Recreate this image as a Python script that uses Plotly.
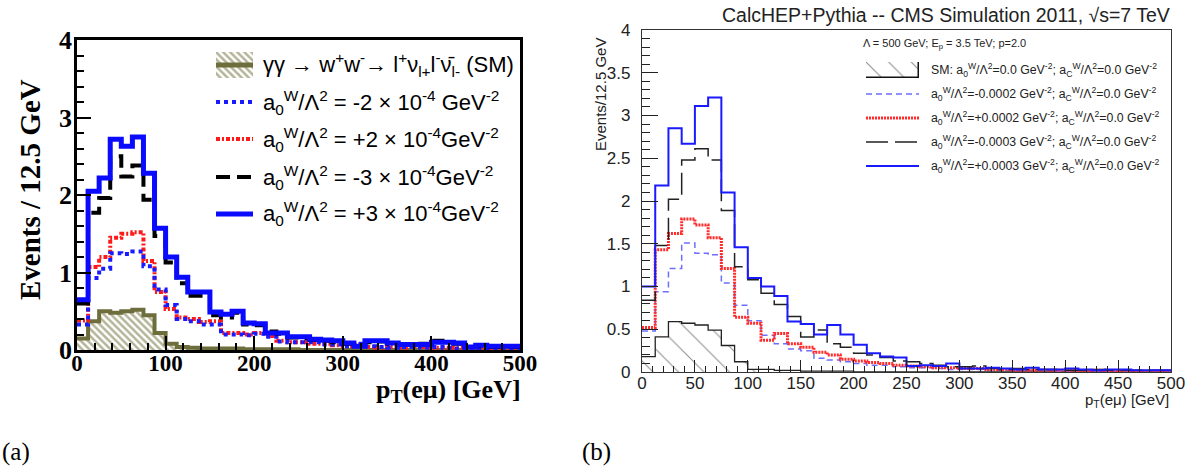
import plotly.graph_objects as go

W, H = 1197, 468

# bin edges: 40 bins of 12.5 GeV from 0 to 500
bin_width = 12.5
edges = [i * bin_width for i in range(41)]
centers = [e + bin_width / 2 for e in edges[:-1]]

# ---- panel (a) contents ----
a_sm = [0.15, 0.37, 0.50, 0.48, 0.50, 0.52, 0.45, 0.22, 0.08, 0.04, 0.03, 0.02, 0.02, 0.02,
        0.02, 0.01, 0.01, 0.01, 0.01, 0.01, 0.0, 0.0, 0.0, 0.0, 0.0, 0.0, 0.0, 0.0, 0.0, 0.0,
        0.0, 0.0, 0.0, 0.0, 0.0, 0.0, 0.0, 0.0, 0.0, 0.0]
a_m2 = [0.33, 0.93, 1.05, 1.25, 1.24, 1.27, 1.08, 0.78, 0.58, 0.40, 0.37, 0.33, 0.33, 0.20,
        0.20, 0.19, 0.21, 0.17, 0.11, 0.10, 0.10, 0.10, 0.07, 0.07, 0.05, 0.08, 0.05, 0.04,
        0.03, 0.04, 0.04, 0.03, 0.04, 0.03, 0.02, 0.03, 0.02, 0.02, 0.02, 0.02]
a_p2 = [0.38, 1.07, 1.20, 1.45, 1.50, 1.52, 1.15, 0.75, 0.53, 0.42, 0.40, 0.36, 0.37, 0.22,
        0.22, 0.20, 0.22, 0.18, 0.12, 0.10, 0.10, 0.08, 0.08, 0.06, 0.05, 0.07, 0.04, 0.03,
        0.04, 0.03, 0.05, 0.04, 0.03, 0.03, 0.03, 0.02, 0.03, 0.02, 0.02, 0.02]
a_m3 = [0.60, 1.77, 1.96, 2.50, 2.24, 2.38, 1.94, 1.47, 1.13, 0.86, 0.70, 0.70, 0.45, 0.42,
        0.48, 0.33, 0.32, 0.24, 0.21, 0.16, 0.15, 0.13, 0.12, 0.10, 0.08, 0.06, 0.10, 0.11,
        0.08, 0.07, 0.06, 0.08, 0.12, 0.10, 0.08, 0.04, 0.05, 0.04, 0.04, 0.04]
a_p3 = [0.65, 2.05, 2.22, 2.72, 2.63, 2.75, 2.28, 1.57, 1.20, 0.94, 0.75, 0.75, 0.49, 0.46,
        0.50, 0.35, 0.34, 0.22, 0.22, 0.17, 0.17, 0.14, 0.13, 0.12, 0.09, 0.05, 0.12, 0.12,
        0.09, 0.07, 0.07, 0.07, 0.10, 0.10, 0.09, 0.04, 0.06, 0.05, 0.05, 0.05]

# ---- panel (b) contents ----
b_sm = [0.18, 0.41, 0.59, 0.57, 0.55, 0.49, 0.31, 0.12, 0.03, 0.03, 0.02, 0.02, 0.01, 0.01,
        0.01, 0.01, 0.0, 0.0, 0.0, 0.0, 0.0, 0.0, 0.0, 0.0, 0.0, 0.0, 0.0, 0.0, 0.0, 0.0,
        0.0, 0.0, 0.0, 0.0, 0.0, 0.0, 0.0, 0.0, 0.0, 0.0]
b_m2 = [0.48, 0.94, 1.21, 1.51, 1.39, 1.37, 1.04, 0.78, 0.60, 0.43, 0.33, 0.27, 0.25, 0.16,
        0.14, 0.12, 0.10, 0.08, 0.08, 0.06, 0.05, 0.05, 0.04, 0.03, 0.03, 0.03, 0.02, 0.02,
        0.02, 0.02, 0.02, 0.01, 0.01, 0.02, 0.01, 0.01, 0.01, 0.01, 0.01, 0.01]
b_p2 = [0.52, 1.43, 1.62, 1.79, 1.72, 1.57, 1.21, 0.64, 0.57, 0.37, 0.45, 0.33, 0.29, 0.23,
        0.20, 0.15, 0.13, 0.11, 0.10, 0.08, 0.07, 0.06, 0.05, 0.05, 0.04, 0.04, 0.03, 0.03,
        0.02, 0.02, 0.02, 0.02, 0.02, 0.01, 0.02, 0.01, 0.01, 0.01, 0.01, 0.01]
b_m3 = [0.84, 1.48, 2.02, 2.48, 2.61, 2.48, 1.89, 1.23, 1.08, 0.92, 0.79, 0.65, 0.41, 0.49,
        0.33, 0.29, 0.22, 0.20, 0.17, 0.13, 0.12, 0.10, 0.08, 0.06, 0.06, 0.07, 0.04, 0.03,
        0.04, 0.03, 0.03, 0.03, 0.02, 0.02, 0.03, 0.02, 0.02, 0.02, 0.02, 0.02]
b_p3 = [1.00, 2.18, 2.85, 2.67, 3.11, 3.21, 2.10, 1.46, 1.10, 1.00, 0.89, 0.59, 0.56, 0.44,
        0.55, 0.44, 0.32, 0.22, 0.18, 0.17, 0.07, 0.08, 0.07, 0.10, 0.04, 0.04, 0.05, 0.04,
        0.03, 0.05, 0.03, 0.03, 0.04, 0.03, 0.02, 0.03, 0.03, 0.02, 0.02, 0.02]

a_labels = [
    "γγ → w<sup>+</sup>w<sup>-</sup>→ l<sup>+</sup>ν<sub>l+</sub>l<sup>-</sup>ν̄<sub>l-</sub> (SM)",
    "a<sub>0</sub><sup>W</sup>/Λ<sup>2</sup> = -2 × 10<sup>-4</sup> GeV<sup>-2</sup>",
    "a<sub>0</sub><sup>W</sup>/Λ<sup>2</sup> = +2 × 10<sup>-4</sup>GeV<sup>-2</sup>",
    "a<sub>0</sub><sup>W</sup>/Λ<sup>2</sup> = -3 × 10<sup>-4</sup>GeV<sup>-2</sup>",
    "a<sub>0</sub><sup>W</sup>/Λ<sup>2</sup> = +3 × 10<sup>-4</sup>GeV<sup>-2</sup>",
]
b_labels = [
    "SM: a<sub>0</sub><sup>W</sup>/Λ<sup>2</sup>=0.0 GeV<sup>-2</sup>; a<sub>C</sub><sup>W</sup>/Λ<sup>2</sup>=0.0 GeV<sup>-2</sup>",
    "a<sub>0</sub><sup>W</sup>/Λ<sup>2</sup>=-0.0002 GeV<sup>-2</sup>; a<sub>C</sub><sup>W</sup>/Λ<sup>2</sup>=0.0 GeV<sup>-2</sup>",
    "a<sub>0</sub><sup>W</sup>/Λ<sup>2</sup>=+0.0002 GeV<sup>-2</sup>; a<sub>C</sub><sup>W</sup>/Λ<sup>2</sup>=0.0 GeV<sup>-2</sup>",
    "a<sub>0</sub><sup>W</sup>/Λ<sup>2</sup>=-0.0003 GeV<sup>-2</sup>; a<sub>C</sub><sup>W</sup>/Λ<sup>2</sup>=0.0 GeV<sup>-2</sup>",
    "a<sub>0</sub><sup>W</sup>/Λ<sup>2</sup>=+0.0003 GeV<sup>-2</sup>; a<sub>C</sub><sup>W</sup>/Λ<sup>2</sup>=0.0 GeV<sup>-2</sup>",
]

SERIF = "Liberation Serif"
SANS = "Liberation Sans"
OLIVE = "#6e6e3c"


def X(p):
    return p / W


def Y(p):
    return 1 - p / H


def step(vals):
    return edges, list(vals) + [vals[-1]]


fig = go.Figure()

# ---------- panel (a) ----------
fig.add_trace(go.Bar(x=centers, y=a_sm, width=bin_width, xaxis="x", yaxis="y",
                     marker=dict(color="white", line=dict(width=0),
                                 pattern=dict(shape="\\", size=5, solidity=0.5,
                                              fgcolor="#6a6a34", bgcolor="white")),
                     showlegend=False, hoverinfo="skip"))
a_styles = [
    (a_sm, OLIVE, 4, "solid"),
    (a_p2, "#ff1a1a", 4, "4px,2px,2px,2px"),
    (a_m2, "#1a1aff", 4, "4px,4px"),
    (a_m3, "black", 4, "14px,7px"),
    (a_p3, "#0a0aff", 5, "solid"),
]
for vals, col, wd, dash in a_styles:
    xs, ys = step(vals)
    fig.add_trace(go.Scatter(x=xs, y=ys, mode="lines", line_shape="hv", xaxis="x", yaxis="y",
                             line=dict(color=col, width=wd, dash=dash),
                             showlegend=False, hoverinfo="skip"))

# ---------- panel (b) ----------
fig.add_trace(go.Bar(x=centers, y=b_sm, width=bin_width, xaxis="x2", yaxis="y2",
                     marker=dict(color="white", line=dict(width=0),
                                 pattern=dict(shape="\\", size=18, solidity=0.06,
                                              fgcolor="#222", bgcolor="white")),
                     showlegend=False, hoverinfo="skip"))
b_styles = [
    (b_sm, "#222222", 1.3, "solid"),
    (b_m2, "#6f6fff", 1.5, "6px,4px"),
    (b_p2, "#ff2a2a", 3, "2px,1px"),
    (b_m3, "#222222", 1.5, "22px,7px"),
    (b_p3, "#1a1aff", 2, "solid"),
]
for vals, col, wd, dash in b_styles:
    xs, ys = step(vals)
    fig.add_trace(go.Scatter(x=xs, y=ys, mode="lines", line_shape="hv", xaxis="x2", yaxis="y2",
                             line=dict(color=col, width=wd, dash=dash),
                             showlegend=False, hoverinfo="skip"))

# hatched legend swatches drawn on small helper axes
fig.add_trace(go.Bar(x=[0.5], y=[1], width=1, xaxis="x3", yaxis="y3",
                     marker=dict(color="white", line=dict(width=0),
                                 pattern=dict(shape="\\", size=5, solidity=0.5,
                                              fgcolor="#6a6a34", bgcolor="white")),
                     showlegend=False, hoverinfo="skip"))
fig.add_trace(go.Bar(x=[0.5], y=[1], width=1, xaxis="x4", yaxis="y4",
                     marker=dict(color="white", line=dict(width=1.5, color="#111"),
                                 pattern=dict(shape="\\", size=16, solidity=0.07,
                                              fgcolor="#222", bgcolor="white")),
                     showlegend=False, hoverinfo="skip"))

axis_a_font = dict(family=SERIF, size=23, color="black", weight="bold")
axis_a_yfont = dict(family=SERIF, size=26, color="black", weight="bold")
axis_b_font = dict(family=SANS, size=17, color="#222")

hidden = dict(visible=False, range=[0, 1], fixedrange=True, automargin=False)

fig.update_layout(
    width=W, height=H, autosize=False, margin=dict(l=0, r=0, t=0, b=0, autoexpand=False),
    paper_bgcolor="white", plot_bgcolor="white", bargap=0,
    xaxis=dict(domain=[X(77), X(520)], range=[0, 500], anchor="y", automargin=False,
               showgrid=False, zeroline=False, showline=True, mirror=True,
               linecolor="black", linewidth=2.5,
               ticks="inside", tickcolor="black", ticklen=14, tickwidth=2,
               tickvals=[0, 100, 200, 300, 400, 500], tickfont=axis_a_font,
               ticklabelstandoff=-9,
               minor=dict(ticks="inside", dtick=20, ticklen=7, tickwidth=1.5, tickcolor="black")),
    yaxis=dict(domain=[Y(350), Y(40)], range=[0, 4], anchor="x", automargin=False,
               showgrid=False, zeroline=False, showline=True, mirror=True,
               linecolor="black", linewidth=2.5,
               ticks="inside", tickcolor="black", ticklen=14, tickwidth=2,
               tickvals=[0, 1, 2, 3, 4], tickfont=axis_a_yfont, ticklabelstandoff=-3,
               minor=dict(ticks="inside", dtick=0.2, ticklen=7, tickwidth=1.5, tickcolor="black")),
    xaxis2=dict(domain=[X(642), X(1171)], range=[0, 500], anchor="y2", automargin=False,
                showgrid=False, zeroline=False, showline=True, mirror=True,
                linecolor="#333", linewidth=1.3,
                ticks="inside", tickcolor="#222", ticklen=12, tickwidth=1.2,
                dtick=50, tick0=0, tickfont=axis_b_font, ticklabelstandoff=-5,
                minor=dict(ticks="inside", dtick=10, ticklen=6, tickwidth=1, tickcolor="#222")),
    yaxis2=dict(domain=[Y(372), Y(30)], range=[0, 4], anchor="x2", automargin=False,
                showgrid=False, zeroline=False, showline=True, mirror=True,
                linecolor="#333", linewidth=1.3,
                ticks="inside", tickcolor="#222", ticklen=16, tickwidth=1.2,
                dtick=0.5, tick0=0, tickfont=axis_b_font, ticklabelstandoff=7,
                minor=dict(ticks="inside", dtick=0.1, ticklen=8, tickwidth=1, tickcolor="#222")),
    xaxis3=dict(domain=[X(216), X(253)], anchor="y3", **hidden),
    yaxis3=dict(domain=[Y(78), Y(52)], anchor="x3", **hidden),
    xaxis4=dict(domain=[X(866), X(919)], anchor="y4", **hidden),
    yaxis4=dict(domain=[Y(78), Y(62)], anchor="x4", **hidden),
)

shapes = []
annotations = []

# ----- legend (a) -----
a_rows = [65, 102, 139, 177, 214]
a_sample = [
    (OLIVE, 5, "solid"),
    ("#1a1aff", 4, "4px,4px"),
    ("#ff1a1a", 4, "4px,2px,2px,2px"),
    ("black", 4, "14px,7px"),
    ("#0a0aff", 5, "solid"),
]
for yy, (col, wd, dash), lab in zip(a_rows, a_sample, a_labels):
    shapes.append(dict(type="line", xref="paper", yref="paper",
                       x0=X(216), x1=X(253), y0=Y(yy), y1=Y(yy),
                       line=dict(color=col, width=wd, dash=dash)))
    annotations.append(dict(text=lab, xref="paper", yref="paper", x=X(261), y=Y(yy),
                            xanchor="left", yanchor="middle", showarrow=False,
                            font=dict(family=SANS, size=22, color="black")))

# ----- legend (b) -----
annotations.append(dict(text="Λ = 500 GeV; E<sub>p</sub> = 3.5 TeV; p=2.0", xref="paper", yref="paper",
                        x=X(861), y=Y(44), xanchor="left", yanchor="middle", showarrow=False,
                        font=dict(family=SANS, size=11, color="#222")))
b_rows = [70, 94, 118, 142, 166]
b_sample = [
    None,
    ("#6f6fff", 1.5, "6px,4px"),
    ("#ff2a2a", 3, "2px,1px"),
    ("#222222", 1.5, "22px,7px"),
    ("#1a1aff", 2, "solid"),
]
for yy, smp, lab in zip(b_rows, b_sample, b_labels):
    if smp is not None:
        col, wd, dash = smp
        shapes.append(dict(type="line", xref="paper", yref="paper",
                           x0=X(866), x1=X(919), y0=Y(yy), y1=Y(yy),
                           line=dict(color=col, width=wd, dash=dash)))
    annotations.append(dict(text=lab, xref="paper", yref="paper", x=X(929), y=Y(yy),
                            xanchor="left", yanchor="middle", showarrow=False,
                            font=dict(family=SANS, size=12.3, color="#222")))

# ----- axis titles and captions -----
annotations += [
    dict(text="Events / 12.5 GeV", xref="paper", yref="paper", x=X(30), y=Y(190),
         textangle=-90, xanchor="center", yanchor="middle", showarrow=False,
         font=dict(family=SERIF, size=29, color="black", weight="bold")),
    dict(text="p<sub>T</sub>(eμ) [GeV]", xref="paper", yref="paper", x=X(523), y=Y(391),
         xanchor="right", yanchor="middle", showarrow=False,
         font=dict(family=SERIF, size=26, color="black", weight="bold")),
    dict(text="Events/12.5 GeV", xref="paper", yref="paper", x=X(601), y=Y(95),
         textangle=-90, xanchor="center", yanchor="middle", showarrow=False,
         font=dict(family=SANS, size=15, color="#222")),
    dict(text="p<sub>T</sub>(eμ) [GeV]", xref="paper", yref="paper", x=X(1171), y=Y(400),
         xanchor="right", yanchor="middle", showarrow=False,
         font=dict(family=SANS, size=15, color="#222")),
    dict(text="CalcHEP+Pythia -- CMS Simulation 2011, √s=7 TeV", xref="paper", yref="paper",
         x=X(1172), y=Y(15), xanchor="right", yanchor="middle", showarrow=False,
         font=dict(family=SANS, size=19.5, color="#222")),
    dict(text="(a)", xref="paper", yref="paper", x=X(0), y=Y(452),
         xanchor="left", yanchor="middle", showarrow=False,
         font=dict(family=SERIF, size=25, color="black")),
    dict(text="(b)", xref="paper", yref="paper", x=X(580), y=Y(452),
         xanchor="left", yanchor="middle", showarrow=False,
         font=dict(family=SERIF, size=25, color="black")),
]

fig.update_layout(shapes=shapes, annotations=annotations)
fig.write_html("out.html", config={"responsive": False},
               default_width=f"{W}px", default_height=f"{H}px",
               post_script="document.body.style.margin='0';")
